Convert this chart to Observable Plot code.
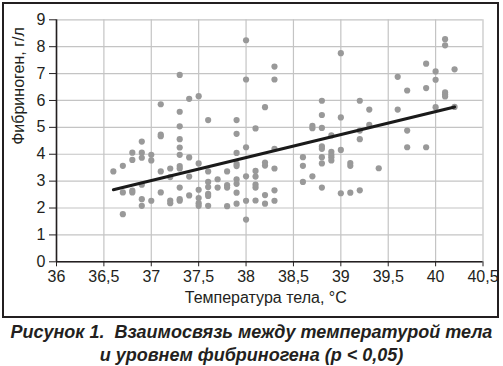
<!DOCTYPE html>
<html>
<head>
<meta charset="utf-8">
<script src="https://cdn.jsdelivr.net/npm/d3@7"></script>
<script src="https://cdn.jsdelivr.net/npm/@observablehq/plot@0.6"></script>
<style>
  html, body { margin: 0; padding: 0; background: #fff; }
  body { width: 503px; height: 366px; position: relative; overflow: hidden; font-family: "Liberation Sans", Arial, sans-serif; }
  #frame { position: absolute; left: 2px; top: 2px; width: 493px; height: 312px; border: 2px solid #231f20; }
  #frame svg { display: block; overflow: visible; }
  #caption { position: absolute; left: 0; top: 321px; width: 503px; text-align: center; font: italic bold 18px/23px "Liberation Sans", Arial, sans-serif; color: #231f20; }
</style>
</head>
<body>
<div id="frame"></div>
<div id="caption">Рисунок 1.&nbsp; Взаимосвязь между температурой тела<br>и уровнем фибриногена (p &lt; 0,05)</div>
<script>
const temperature = [
  36.6,
  36.7, 36.7, 36.7,
  36.8, 36.8, 36.8, 36.8,
  36.9, 36.9, 36.9, 36.9, 36.9, 36.9,
  37.0, 37.0, 37.0,
  37.1, 37.1, 37.1, 37.1, 37.1,
  37.2, 37.2, 37.2, 37.2,
  37.3, 37.3, 37.3, 37.3, 37.3, 37.3, 37.3, 37.3, 37.3, 37.3, 37.3,
  37.4, 37.4, 37.4, 37.4,
  37.5, 37.5, 37.5, 37.5, 37.5, 37.5,
  37.6, 37.6, 37.6, 37.6, 37.6, 37.6, 37.6,
  37.7, 37.7,
  37.8, 37.8, 37.8, 37.8,
  37.9, 37.9, 37.9, 37.9, 37.9, 37.9, 37.9, 37.9, 37.9,
  38.0, 38.0, 38.0, 38.0, 38.0, 38.0,
  38.1, 38.1, 38.1, 38.1, 38.1, 38.1,
  38.2, 38.2, 38.2, 38.2, 38.2,
  38.3, 38.3, 38.3, 38.3, 38.3, 38.3,
  38.6, 38.6, 38.6,
  38.7, 38.7, 38.7,
  38.8, 38.8, 38.8, 38.8, 38.8, 38.8, 38.8, 38.8,
  38.9, 38.9, 38.9, 38.9, 38.9,
  39.0, 39.0, 39.0, 39.0,
  39.1, 39.1, 39.1,
  39.2, 39.2, 39.2, 39.2,
  39.3, 39.3,
  39.4,
  39.6, 39.6,
  39.7, 39.7, 39.7,
  39.9, 39.9, 39.9,
  40.0, 40.0, 40.0,
  40.1, 40.1, 40.1, 40.1, 40.1,
  40.2, 40.2
];
const fibrinogen = [
  3.36,
  3.57, 2.58, 1.77,
  4.06, 3.79, 2.65, 2.58,
  4.47, 4.06, 3.87, 2.87, 2.33, 2.08,
  3.98, 3.77, 2.27,
  5.86, 4.73, 4.67, 3.36, 2.58,
  3.47, 3.15, 2.28, 2.18,
  6.95, 5.58, 5.04, 4.56, 4.25, 3.98, 3.56, 3.47, 2.76, 2.33, 2.27,
  6.06, 3.88, 3.17, 2.47,
  6.16, 3.66, 2.68, 2.37, 2.18, 2.08,
  5.27, 3.36, 2.97, 2.78, 2.53, 2.45, 2.08,
  3.07, 2.76,
  3.36, 2.85, 2.76, 2.07,
  5.27, 4.76, 4.05, 3.64, 3.56, 3.07, 2.90, 2.57, 2.16,
  8.24, 6.78, 4.26, 3.18, 2.27, 1.57,
  4.96, 3.38, 3.17, 2.87, 2.76, 2.28,
  5.75, 3.69, 3.58, 2.48, 2.16,
  7.26, 6.78, 4.20, 3.47, 2.66, 2.27,
  3.89, 3.57, 2.97,
  5.06, 4.97, 3.18,
  5.99, 5.46, 4.98, 4.29, 4.20, 3.89, 3.66, 2.76,
  4.70, 4.09, 3.98, 3.89, 3.77,
  7.76, 5.37, 4.16, 2.55,
  3.67, 3.57, 2.57,
  5.99, 4.88, 4.56, 2.66,
  5.66, 5.09,
  3.48,
  6.88, 5.66,
  6.37, 4.88, 4.26,
  7.37, 6.46, 4.26,
  7.08, 6.77, 5.75,
  8.28, 8.05, 6.30, 6.22, 6.15,
  7.16, 5.76
];
const trendTemperature = [36.6, 40.2];
const trendFibrinogen = [2.68, 5.76];
const xTicks = [36, 36.5, 37, 37.5, 38, 38.5, 39, 39.5, 40, 40.5];
const yTicks = [0, 1, 2, 3, 4, 5, 6, 7, 8, 9];
const xTitle = "Температура тела, °C";
const yTitle = "Фибриноген, г/л";

const points = temperature.map((t, i) => ({t, f: fibrinogen[i]}));
const trend = trendTemperature.map((t, i) => ({t, f: trendFibrinogen[i]}));
const fmt = d => String(d).replace(".", ",");
const ink = "#231f20";

const chart = Plot.plot({
  width: 493,
  height: 312,
  marginLeft: 52,
  marginRight: 14.5,
  marginTop: 15.3,
  marginBottom: 54.7,
  style: {fontFamily: "'Liberation Sans', Arial, sans-serif", fontSize: "16px", color: ink, background: "#fff", overflow: "visible"},
  x: {domain: [36, 40.5], ticks: xTicks, tickFormat: fmt, label: null},
  y: {domain: [0, 9], ticks: yTicks, label: null},
  marks: [
    Plot.gridX(xTicks, {stroke: "#c4c4c4", strokeOpacity: 1, strokeWidth: 1.2}),
    Plot.gridY(yTicks, {stroke: "#c4c4c4", strokeOpacity: 1, strokeWidth: 1.2}),
    Plot.axisX(xTicks, {tickSize: 5, tickPadding: 4, tickFormat: fmt, fontSize: 16, stroke: ink, fill: ink, label: null}),
    Plot.axisY(yTicks, {tickSize: 7, tickPadding: 4, fontSize: 16, stroke: ink, fill: ink, label: null}),
    Plot.ruleX([36], {stroke: ink, strokeWidth: 1.6}),
    Plot.ruleY([0], {stroke: ink, strokeWidth: 1.6}),
    Plot.dot(points, {x: "t", y: "f", r: 3.1, fill: "#999999", stroke: "none"}),
    Plot.line(trend, {x: "t", y: "f", stroke: "#1a1a1a", strokeWidth: 3}),
    Plot.text([xTitle], {frameAnchor: "bottom", dy: 41.5, dx: -4, fontSize: 16, fill: ink}),
    Plot.text([yTitle], {frameAnchor: "left", dx: -38, dy: 4, rotate: -90, fontSize: 16, fill: ink})
  ]
});
document.getElementById("frame").appendChild(chart);
</script>
</body>
</html>
